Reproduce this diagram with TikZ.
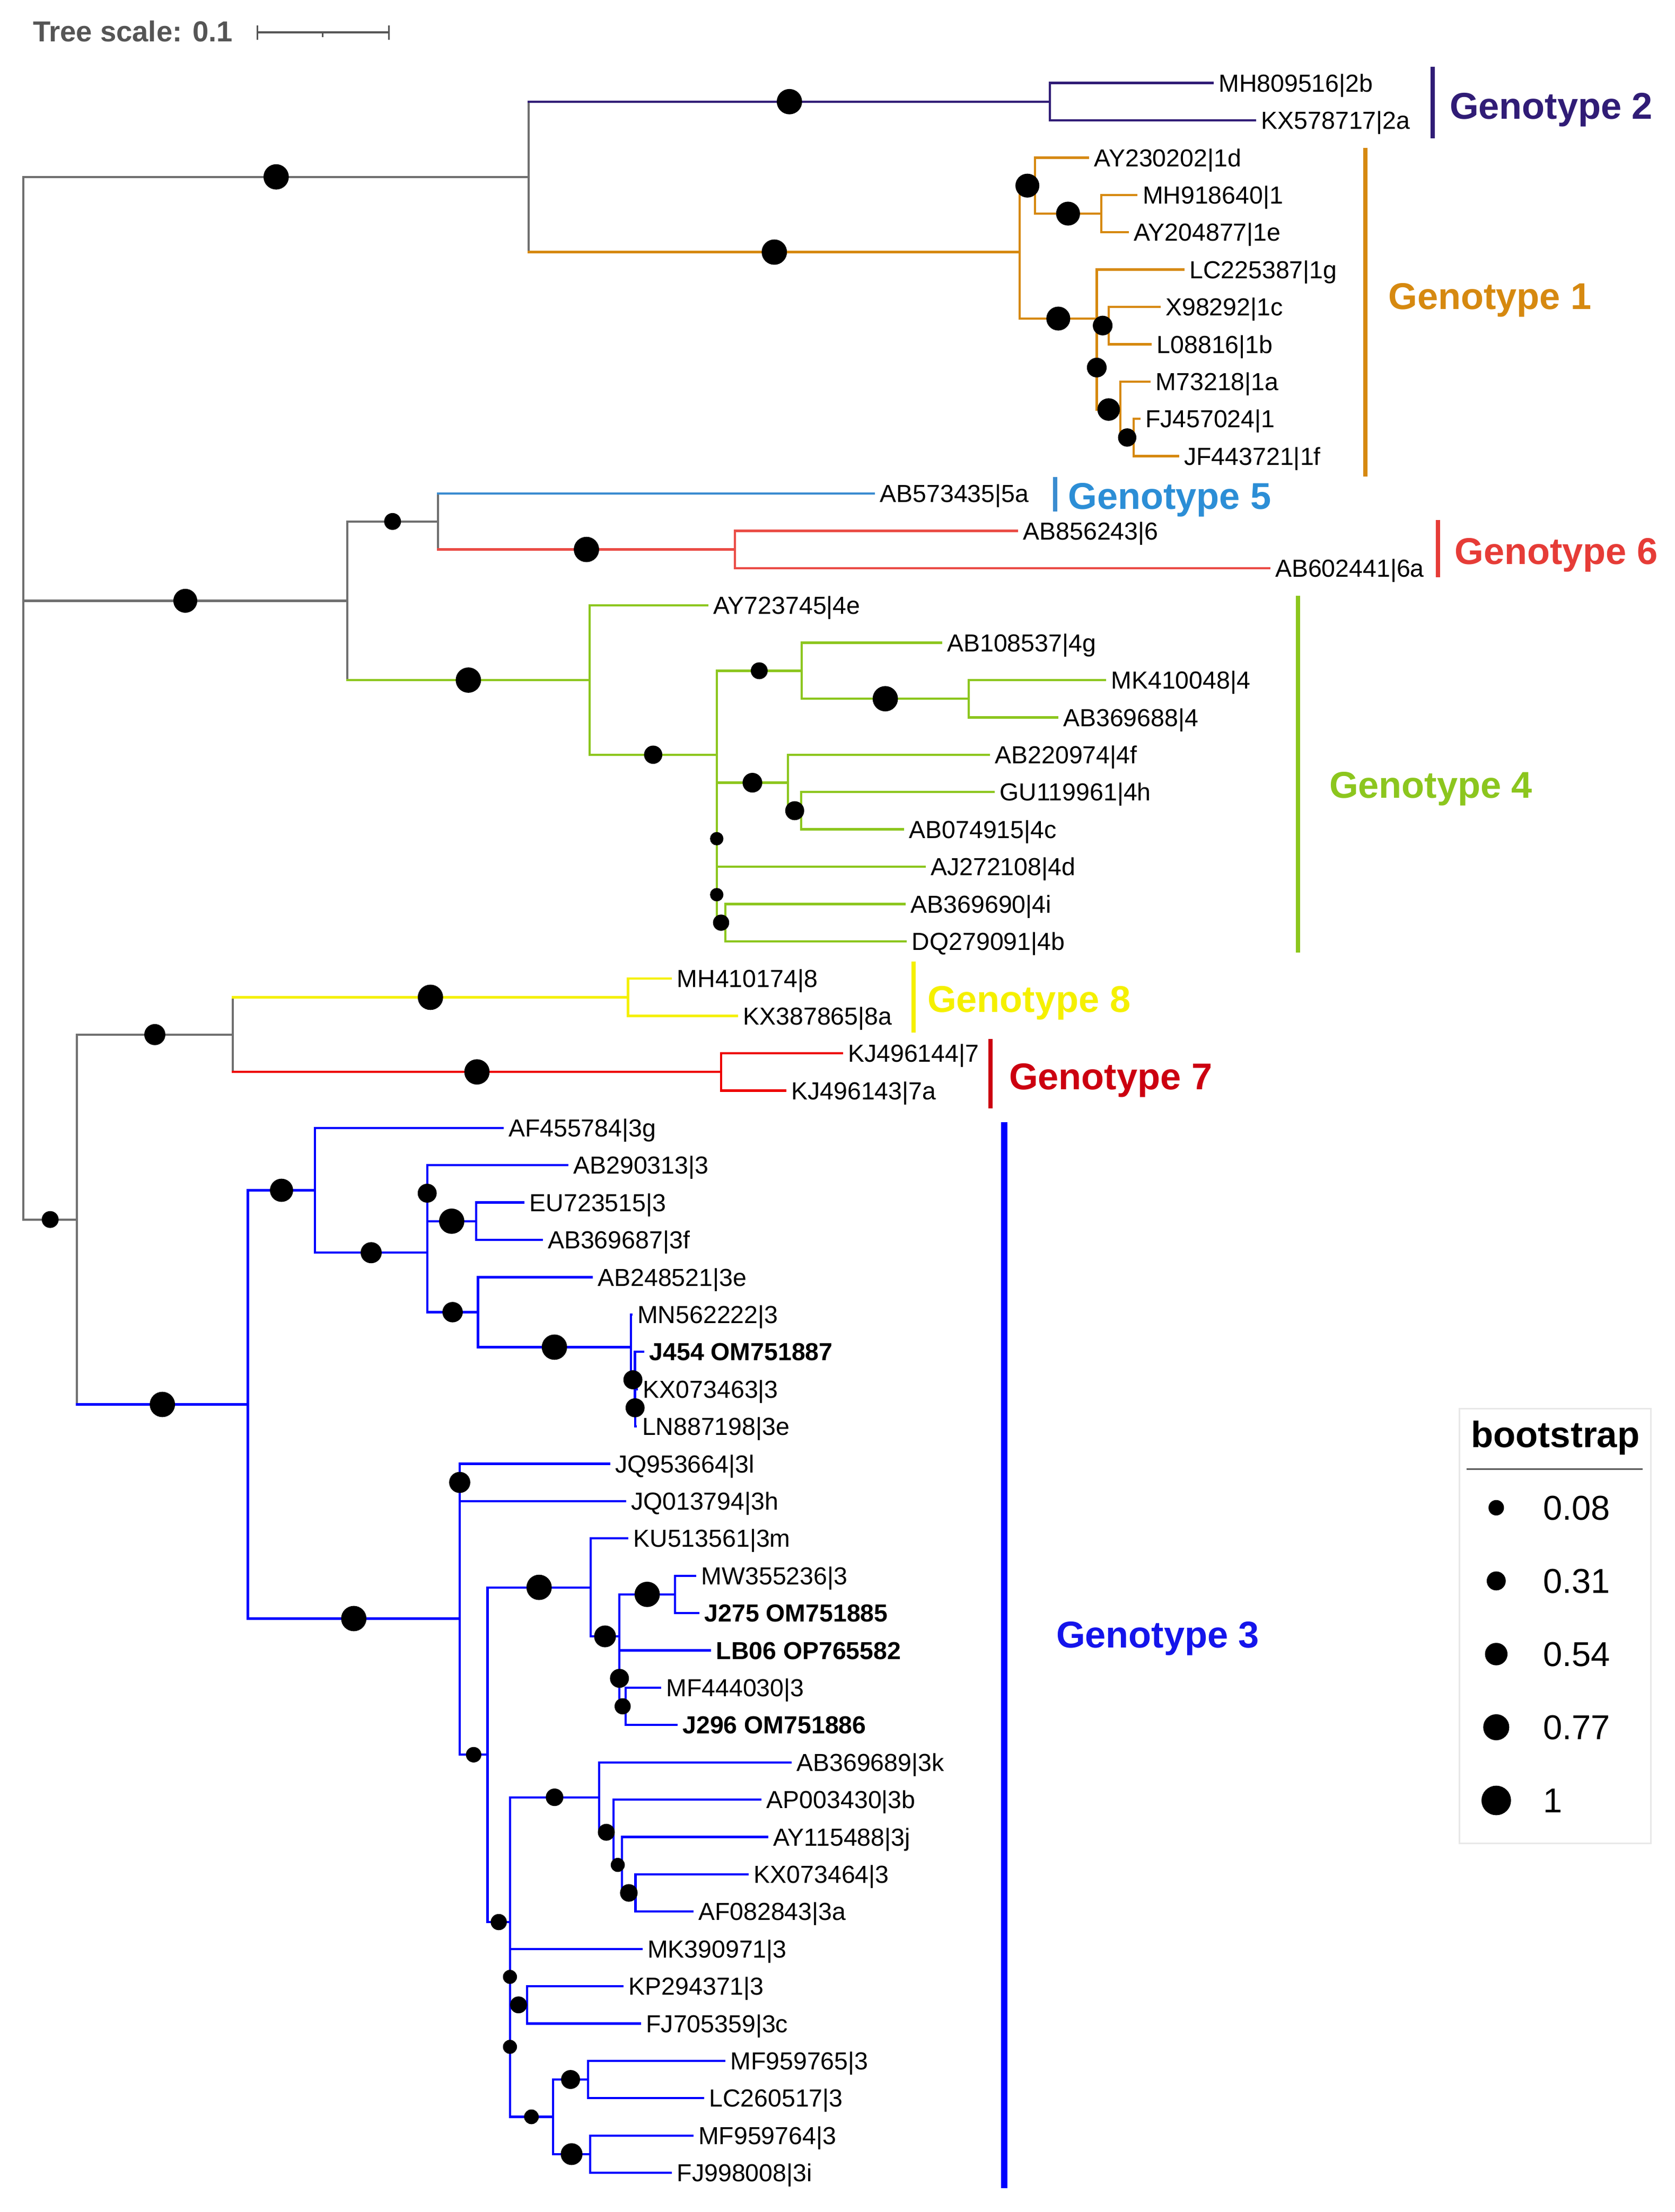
\documentclass[tikz,border=0pt]{standalone}
\usepackage{fontspec}
\setmainfont{Liberation Sans}
\usetikzlibrary{calc}
\definecolor{cgray}{RGB}{112,112,112}
\definecolor{cgtwo}{RGB}{48,28,118}
\definecolor{cgone}{RGB}{214,137,16}
\definecolor{cgfive}{RGB}{58,140,208}
\definecolor{cgfivet}{RGB}{44,142,214}
\definecolor{cgsix}{RGB}{234,76,70}
\definecolor{cgsixt}{RGB}{230,60,55}
\definecolor{cgfour}{RGB}{140,198,30}
\definecolor{cgeight}{RGB}{245,240,0}
\definecolor{cgseven}{RGB}{238,0,0}
\definecolor{cgsevent}{RGB}{204,0,16}
\definecolor{cgthree}{RGB}{0,0,255}
\definecolor{cgthreet}{RGB}{20,20,235}
\definecolor{cscale}{RGB}{85,85,85}
\definecolor{legborder}{RGB}{232,232,232}
\newcommand\tleaf[3]{\coordinate (l#1) at (#2,{59+26.52*(#1-1)});
  \node[lab] (t#1) at ($(l#1)+(4,6.3)$) {#3};}
\newcommand\tvbar[4]{\draw[br,#1] (#2 |- #3) -- (#2 |- #4);}
\newcommand\thbr[3]{\draw[br,#1] (#2 |- #3) -- (#3);}
\newcommand\tdot[3]{\fill[black] ($(#1 |- #2)!0.5!(#2)$) circle[radius=#3/2];}
\begin{document}
\begin{tikzpicture}[x=0.5pt,y=-0.5pt,
  br/.style={line width=0.8pt,line cap=rect},
  lab/.style={anchor=base west,inner sep=0pt,font=\fontsize{8.75}{10}\selectfont},
  glab/.style={anchor=base west,inner sep=0pt,font=\fontsize{13.25}{15}\selectfont\bfseries},
  gbar/.style={line width=1.5pt}]
\useasboundingbox (0,0) rectangle (1190,1572);
\fill[white] (0,0) rectangle (1190,1572);

% ---------- tree scale ----------
\node[anchor=base west,inner sep=0pt,text=cscale,font=\fontsize{10.25}{12}\selectfont\bfseries] (ts) at (23,29.5) {Tree scale: 0.1};
\coordinate (sba) at (183,23);
\coordinate (sbb) at (276.2,23);
\coordinate (sbm) at (229.1,23);
\draw[cscale,line width=0.75pt] (sba) -- (sbb);
\draw[cscale,line width=0.6pt] ($(sba)+(0,-5)$) -- ($(sba)+(0,5.3)$);
\draw[cscale,line width=0.6pt] ($(sbb)+(0,-5)$) -- ($(sbb)+(0,5.3)$);
\draw[cscale,line width=0.5pt] (sbm) -- ($(sbm)+(0,3.5)$);

% ---------- leaves ----------
\tleaf{1}{861.4}{MH809516|2b}
\tleaf{2}{891.7}{KX578717|2a}
\tleaf{3}{773}{AY230202|1d}
\tleaf{4}{807.4}{MH918640|1}
\tleaf{5}{801.1}{AY204877|1e}
\tleaf{6}{840.7}{LC225387|1g}
\tleaf{7}{823.7}{X98292|1c}
\tleaf{8}{817.5}{L08816|1b}
\tleaf{9}{816.8}{M73218|1a}
\tleaf{10}{809.3}{FJ457024|1}
\tleaf{11}{836.9}{JF443721|1f}
\tleaf{12}{620.8}{AB573435|5a}
\tleaf{13}{722.5}{AB856243|6}
\tleaf{14}{901.6}{AB602441|6a}
\tleaf{15}{502.4}{AY723745|4e}
\tleaf{16}{668.5}{AB108537|4g}
\tleaf{17}{785}{MK410048|4}
\tleaf{18}{751}{AB369688|4}
\tleaf{19}{702.5}{AB220974|4f}
\tleaf{20}{706}{GU119961|4h}
\tleaf{21}{641.5}{AB074915|4c}
\tleaf{22}{656.8}{AJ272108|4d}
\tleaf{23}{642.7}{AB369690|4i}
\tleaf{24}{643.5}{DQ279091|4b}
\tleaf{25}{476.6}{MH410174|8}
\tleaf{26}{523.6}{KX387865|8a}
\tleaf{27}{598}{KJ496144|7}
\tleaf{28}{557.8}{KJ496143|7a}
\tleaf{29}{356.9}{AF455784|3g}
\tleaf{30}{403}{AB290313|3}
\tleaf{31}{371.9}{EU723515|3}
\tleaf{32}{384.8}{AB369687|3f}
\tleaf{33}{420.3}{AB248521|3e}
\tleaf{34}{448.5}{MN562222|3}
\tleaf{35}{456.9}{\bfseries J454 OM751887}
\tleaf{36}{452.5}{KX073463|3}
\tleaf{37}{451.8}{LN887198|3e}
\tleaf{38}{432.6}{JQ953664|3l}
\tleaf{39}{443.9}{JQ013794|3h}
\tleaf{40}{445.6}{KU513561|3m}
\tleaf{41}{493.9}{MW355236|3}
\tleaf{42}{496.1}{\bfseries J275 OM751885}
\tleaf{43}{504.4}{\bfseries LB06 OP765582}
\tleaf{44}{468.9}{MF444030|3}
\tleaf{45}{480.6}{\bfseries J296 OM751886}
\tleaf{46}{561.6}{AB369689|3k}
\tleaf{47}{540.3}{AP003430|3b}
\tleaf{48}{545}{AY115488|3j}
\tleaf{49}{531.2}{KX073464|3}
\tleaf{50}{491.8}{AF082843|3a}
\tleaf{51}{455.6}{MK390971|3}
\tleaf{52}{442.3}{KP294371|3}
\tleaf{53}{454.6}{FJ705359|3c}
\tleaf{54}{514.5}{MF959765|3}
\tleaf{55}{499.4}{LC260517|3}
\tleaf{56}{491.8}{MF959764|3}
\tleaf{57}{476.6}{FJ998008|3i}

% ---------- internal nodes ----------
\coordinate (root) at (16.7,500);
\coordinate (A) at (375.7,125.715);
\coordinate (G2) at (746,72.26);
\coordinate (G1) at (724.5,179.17);
\coordinate (N1a) at (735.3,131.93);
\coordinate (N1b) at (782.3,151.82);
\coordinate (G1b) at (779.2,226.41);
\coordinate (N1n) at (779.2,261.215);
\coordinate (Q1) at (787.6,231.38);
\coordinate (R1) at (796.1,291.05);
\coordinate (S1) at (805.5,310.94);
\coordinate (B) at (246.6,426.965);
\coordinate (C) at (311.2,370.61);
\coordinate (G6) at (522.1,390.5);
\coordinate (G4) at (418.9,483.32);
\coordinate (G4b) at (509.2,536.36);
\coordinate (Al4) at (569.6,476.69);
\coordinate (Be4) at (688.3,496.58);
\coordinate (Bt4) at (559.9,556.25);
\coordinate (Ga4) at (569.3,576.14);
\coordinate (X4) at (509.2,596.03);
\coordinate (Y4) at (509.2,635.81);
\coordinate (Z4) at (515.4,655.7);
\coordinate (D) at (54.6,866.67);
\coordinate (E) at (165.4,735.26);
\coordinate (G8) at (446.2,708.74);
\coordinate (G7) at (512.3,761.78);
\coordinate (G3) at (176.1,998.08);
\coordinate (F3) at (223.9,845.9);
\coordinate (Gg3) at (303.5,890.24);
\coordinate (Z13) at (303.5,847.97);
\coordinate (EU3) at (338.3,867.86);
\coordinate (H3) at (339.6,932.5);
\coordinate (I3) at (448.2,957.365);
\coordinate (J3) at (451.1,980.57);
\coordinate (K3) at (451.3,1000.46);
\coordinate (L3) at (326.6,1150.26);
\coordinate (JQ3) at (326.6,1053.5);
\coordinate (M3) at (346.4,1247.015);
\coordinate (N3) at (419.6,1128.09);
\coordinate (O3) at (440.1,1162.9);
\coordinate (P3) at (479.5,1133.06);
\coordinate (Q3) at (440.1,1192.73);
\coordinate (R3) at (444.6,1212.62);
\coordinate (S3) at (362.3,1365.94);
\coordinate (T3) at (425.7,1277.26);
\coordinate (U3) at (435.8,1302.13);
\coordinate (V3) at (442,1325.33);
\coordinate (W3) at (451.5,1345.22);
\coordinate (Zb3) at (362.3,1454.615);
\coordinate (Zc3) at (362.3,1404.89);
\coordinate (KP3) at (374.5,1424.78);
\coordinate (Xn3) at (392.8,1504.34);
\coordinate (Yn3) at (417.9,1477.82);
\coordinate (Zn3) at (419.4,1530.86);

% ---------- backbone (gray) ----------
\tvbar{cgray}{root}{A}{D}
\thbr{cgray}{root}{A}
\thbr{cgray}{root}{B}
\thbr{cgray}{root}{D}
\tvbar{cgray}{A}{G2}{G1}
\tvbar{cgray}{B}{C}{G4}
\thbr{cgray}{B}{C}
\tvbar{cgray}{C}{l12}{G6}
\tvbar{cgray}{D}{E}{G3}
\thbr{cgray}{D}{E}
\tvbar{cgray}{E}{G8}{G7}

% ---------- genotype 2 ----------
\thbr{cgtwo}{A}{G2}
\tvbar{cgtwo}{G2}{l1}{l2}
\thbr{cgtwo}{G2}{l1}
\thbr{cgtwo}{G2}{l2}

% ---------- genotype 1 ----------
\thbr{cgone}{A}{G1}
\tvbar{cgone}{G1}{N1a}{G1b}
\thbr{cgone}{G1}{N1a}
\thbr{cgone}{G1}{G1b}
\tvbar{cgone}{N1a}{l3}{N1b}
\thbr{cgone}{N1a}{l3}
\thbr{cgone}{N1a}{N1b}
\tvbar{cgone}{N1b}{l4}{l5}
\thbr{cgone}{N1b}{l4}
\thbr{cgone}{N1b}{l5}
\tvbar{cgone}{G1b}{l6}{N1n}
\thbr{cgone}{G1b}{l6}
\thbr{cgone}{G1b}{N1n}
\tvbar{cgone}{N1n}{Q1}{R1}
\thbr{cgone}{N1n}{Q1}
\thbr{cgone}{N1n}{R1}
\tvbar{cgone}{Q1}{l7}{l8}
\thbr{cgone}{Q1}{l7}
\thbr{cgone}{Q1}{l8}
\tvbar{cgone}{R1}{l9}{S1}
\thbr{cgone}{R1}{l9}
\thbr{cgone}{R1}{S1}
\tvbar{cgone}{S1}{l10}{l11}
\thbr{cgone}{S1}{l10}
\thbr{cgone}{S1}{l11}

% ---------- genotypes 5, 6 ----------
\thbr{cgfive}{C}{l12}
\thbr{cgsix}{C}{G6}
\tvbar{cgsix}{G6}{l13}{l14}
\thbr{cgsix}{G6}{l13}
\thbr{cgsix}{G6}{l14}

% ---------- genotype 4 ----------
\thbr{cgfour}{B}{G4}
\tvbar{cgfour}{G4}{l15}{G4b}
\thbr{cgfour}{G4}{l15}
\thbr{cgfour}{G4}{G4b}
\tvbar{cgfour}{G4b}{Al4}{X4}
\thbr{cgfour}{G4b}{Al4}
\thbr{cgfour}{G4b}{X4}
\tvbar{cgfour}{Al4}{l16}{Be4}
\thbr{cgfour}{Al4}{l16}
\thbr{cgfour}{Al4}{Be4}
\tvbar{cgfour}{Be4}{l17}{l18}
\thbr{cgfour}{Be4}{l17}
\thbr{cgfour}{Be4}{l18}
\tvbar{cgfour}{X4}{Bt4}{Y4}
\thbr{cgfour}{X4}{Bt4}
\thbr{cgfour}{X4}{Y4}
\tvbar{cgfour}{Bt4}{l19}{Ga4}
\thbr{cgfour}{Bt4}{l19}
\thbr{cgfour}{Bt4}{Ga4}
\tvbar{cgfour}{Ga4}{l20}{l21}
\thbr{cgfour}{Ga4}{l20}
\thbr{cgfour}{Ga4}{l21}
\tvbar{cgfour}{Y4}{l22}{Z4}
\thbr{cgfour}{Y4}{l22}
\thbr{cgfour}{Y4}{Z4}
\tvbar{cgfour}{Z4}{l23}{l24}
\thbr{cgfour}{Z4}{l23}
\thbr{cgfour}{Z4}{l24}

% ---------- genotypes 8, 7 ----------
\thbr{cgeight}{E}{G8}
\tvbar{cgeight}{G8}{l25}{l26}
\thbr{cgeight}{G8}{l25}
\thbr{cgeight}{G8}{l26}
\thbr{cgseven}{E}{G7}
\tvbar{cgseven}{G7}{l27}{l28}
\thbr{cgseven}{G7}{l27}
\thbr{cgseven}{G7}{l28}

% ---------- genotype 3 ----------
\thbr{cgthree}{D}{G3}
\tvbar{cgthree}{G3}{F3}{L3}
\thbr{cgthree}{G3}{F3}
\thbr{cgthree}{G3}{L3}
\tvbar{cgthree}{F3}{l29}{Gg3}
\thbr{cgthree}{F3}{l29}
\thbr{cgthree}{F3}{Gg3}
\tvbar{cgthree}{Gg3}{Z13}{H3}
\thbr{cgthree}{Gg3}{Z13}
\thbr{cgthree}{Gg3}{H3}
\tvbar{cgthree}{Z13}{l30}{EU3}
\thbr{cgthree}{Z13}{l30}
\thbr{cgthree}{Z13}{EU3}
\tvbar{cgthree}{EU3}{l31}{l32}
\thbr{cgthree}{EU3}{l31}
\thbr{cgthree}{EU3}{l32}
\tvbar{cgthree}{H3}{l33}{I3}
\thbr{cgthree}{H3}{l33}
\thbr{cgthree}{H3}{I3}
\tvbar{cgthree}{I3}{l34}{J3}
\thbr{cgthree}{I3}{l34}
\thbr{cgthree}{I3}{J3}
\tvbar{cgthree}{J3}{l35}{K3}
\thbr{cgthree}{J3}{l35}
\thbr{cgthree}{J3}{K3}
\tvbar{cgthree}{K3}{l36}{l37}
\thbr{cgthree}{K3}{l36}
\thbr{cgthree}{K3}{l37}
\tvbar{cgthree}{L3}{JQ3}{M3}
\thbr{cgthree}{L3}{JQ3}
\thbr{cgthree}{L3}{M3}
\tvbar{cgthree}{JQ3}{l38}{l39}
\thbr{cgthree}{JQ3}{l38}
\thbr{cgthree}{JQ3}{l39}
\tvbar{cgthree}{M3}{N3}{S3}
\thbr{cgthree}{M3}{N3}
\thbr{cgthree}{M3}{S3}
\tvbar{cgthree}{N3}{l40}{O3}
\thbr{cgthree}{N3}{l40}
\thbr{cgthree}{N3}{O3}
\tvbar{cgthree}{O3}{P3}{Q3}
\thbr{cgthree}{O3}{P3}
\thbr{cgthree}{O3}{Q3}
\tvbar{cgthree}{P3}{l41}{l42}
\thbr{cgthree}{P3}{l41}
\thbr{cgthree}{P3}{l42}
\tvbar{cgthree}{Q3}{l43}{R3}
\thbr{cgthree}{Q3}{l43}
\thbr{cgthree}{Q3}{R3}
\tvbar{cgthree}{R3}{l44}{l45}
\thbr{cgthree}{R3}{l44}
\thbr{cgthree}{R3}{l45}
\tvbar{cgthree}{S3}{T3}{Zb3}
\thbr{cgthree}{S3}{T3}
\thbr{cgthree}{S3}{Zb3}
\tvbar{cgthree}{T3}{l46}{U3}
\thbr{cgthree}{T3}{l46}
\thbr{cgthree}{T3}{U3}
\tvbar{cgthree}{U3}{l47}{V3}
\thbr{cgthree}{U3}{l47}
\thbr{cgthree}{U3}{V3}
\tvbar{cgthree}{V3}{l48}{W3}
\thbr{cgthree}{V3}{l48}
\thbr{cgthree}{V3}{W3}
\tvbar{cgthree}{W3}{l49}{l50}
\thbr{cgthree}{W3}{l49}
\thbr{cgthree}{W3}{l50}
\tvbar{cgthree}{Zb3}{Zc3}{Xn3}
\thbr{cgthree}{Zb3}{Zc3}
\thbr{cgthree}{Zb3}{Xn3}
\tvbar{cgthree}{Zc3}{l51}{KP3}
\thbr{cgthree}{Zc3}{l51}
\thbr{cgthree}{Zc3}{KP3}
\tvbar{cgthree}{KP3}{l52}{l53}
\thbr{cgthree}{KP3}{l52}
\thbr{cgthree}{KP3}{l53}
\tvbar{cgthree}{Xn3}{Yn3}{Zn3}
\thbr{cgthree}{Xn3}{Yn3}
\thbr{cgthree}{Xn3}{Zn3}
\tvbar{cgthree}{Yn3}{l54}{l55}
\thbr{cgthree}{Yn3}{l54}
\thbr{cgthree}{Yn3}{l55}
\tvbar{cgthree}{Zn3}{l56}{l57}
\thbr{cgthree}{Zn3}{l56}
\thbr{cgthree}{Zn3}{l57}

% ---------- bootstrap dots ----------
\tdot{root}{A}{18}
\tdot{A}{G2}{18}
\tdot{A}{G1}{18}
\tdot{G1}{N1a}{17}
\tdot{N1a}{N1b}{17}
\tdot{G1}{G1b}{17}
\tdot{N1n}{Q1}{14}
\tdot{G1b}{N1n}{14}
\tdot{N1n}{R1}{16}
\tdot{R1}{S1}{13}
\tdot{root}{B}{17}
\tdot{B}{C}{12}
\tdot{C}{G6}{18}
\tdot{B}{G4}{18}
\tdot{G4}{G4b}{13}
\tdot{G4b}{Al4}{12}
\tdot{Al4}{Be4}{18}
\tdot{X4}{Bt4}{14}
\tdot{Bt4}{Ga4}{13.5}
\tdot{G4b}{X4}{9.5}
\tdot{X4}{Y4}{9.5}
\tdot{Y4}{Z4}{11.5}
\tdot{root}{D}{12}
\tdot{D}{E}{15}
\tdot{E}{G8}{18}
\tdot{E}{G7}{18}
\tdot{D}{G3}{18}
\tdot{G3}{F3}{16.5}
\tdot{F3}{Gg3}{15}
\tdot{Gg3}{Z13}{13.5}
\tdot{Z13}{EU3}{18}
\tdot{Gg3}{H3}{14.5}
\tdot{H3}{I3}{18}
\tdot{I3}{J3}{13.5}
\tdot{J3}{K3}{13.5}
\tdot{G3}{L3}{18}
\tdot{L3}{JQ3}{15}
\tdot{L3}{M3}{11}
\tdot{M3}{N3}{18}
\tdot{N3}{O3}{15.5}
\tdot{O3}{P3}{18}
\tdot{O3}{Q3}{13.5}
\tdot{Q3}{R3}{11.5}
\tdot{M3}{S3}{11.5}
\tdot{S3}{T3}{12.5}
\tdot{T3}{U3}{12}
\tdot{U3}{V3}{10}
\tdot{V3}{W3}{12.5}
\tdot{Zb3}{Zc3}{10}
\tdot{Zc3}{KP3}{12}
\tdot{S3}{Zb3}{10}
\tdot{Zb3}{Xn3}{10.5}
\tdot{Xn3}{Yn3}{13.5}
\tdot{Xn3}{Zn3}{15.5}

% ---------- genotype bars and labels ----------
\draw[gbar,cgtwo] (1018,47.3) -- (1018,98.5);
\node[glab,text=cgtwo] (g2) at (1029.5,84.5) {Genotype 2};
\draw[gbar,cgone] (970,105) -- (970,338.7);
\node[glab,text=cgone] (g1) at (986,219.8) {Genotype 1};
\draw[gbar,cgfive] (749.8,339) -- (749.8,363.4);
\node[glab,text=cgfivet] (g5) at (758.5,362) {Genotype 5};
\draw[gbar,cgsixt] (1021.5,369.4) -- (1021.5,410.3);
\node[glab,text=cgsixt] (g6) at (1033,401) {Genotype 6};
\draw[gbar,cgfour] (922,423.5) -- (922,676.9);
\node[glab,text=cgfour] (g4) at (944,567) {Genotype 4};
\draw[gbar,cgeight] (648.9,683.2) -- (648.9,733.7);
\node[glab,text=cgeight] (g8) at (658.5,719.3) {Genotype 8};
\draw[gbar,cgsevent] (703.5,738.5) -- (703.5,787.7);
\node[glab,text=cgsevent] (g7) at (716.5,774.5) {Genotype 7};
\draw[line width=2.25pt,cgthree] (713.4,797.3) -- (713.4,1555);
\node[glab,text=cgthreet] (g3) at (750,1171) {Genotype 3};

% ---------- legend ----------
\coordinate (lga) at (1037,1001);
\coordinate (lgb) at (1173,1310);
\draw[legborder,fill=white,line width=0.6pt] (lga) rectangle (lgb);
\node[anchor=base,inner sep=0pt,font=\fontsize{13}{15}\selectfont\bfseries] (lgt) at (1105,1028.5) {bootstrap};
\coordinate (lla) at (1042,1044);
\coordinate (llb) at (1167,1044);
\draw[black!65,line width=0.7pt] (lla) -- (llb);
\foreach \yy/\dd/\vv [count=\i] in {1071.5/11/0.08,1123.5/13.5/0.31,1175.5/16/0.54,1227.5/18.5/0.77,1279.5/21/1}{
  \fill[black] (1063,\yy) circle[radius=\dd/2];
  \node[anchor=base west,inner sep=0pt,font=\fontsize{12.25}{14}\selectfont] (lv\i) at (1096,\yy+8.8) {\vv};
}
\end{tikzpicture}
\end{document}
